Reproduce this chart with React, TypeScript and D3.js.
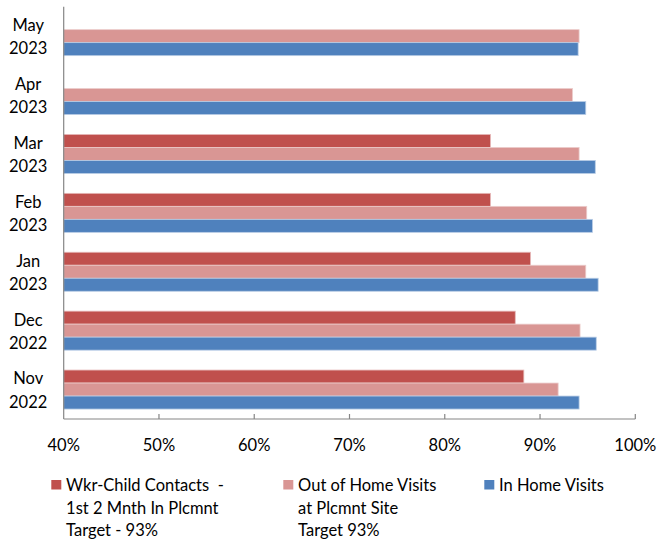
import React from "react";
import * as d3 from "d3";

const categories = ["Nov 2022", "Dec 2022", "Jan 2023", "Feb 2023", "Mar 2023", "Apr 2023", "May 2023"];
const wkrChild = [88.3, 87.4, 89.0, 84.8, 84.8, null, null];
const outOfHome = [91.9, 94.2, 94.8, 94.9, 94.1, 93.4, 94.1];
const inHome = [94.1, 95.9, 96.1, 95.5, 95.8, 94.8, 94.0];
const xTicks = [40, 50, 60, 70, 80, 90, 100];

const seriesNames = [
  ["Wkr-Child Contacts  -", "1st 2 Mnth In Plcmnt", "Target - 93%"],
  ["Out of Home Visits", "at Plcmnt Site", "Target 93%"],
  ["In Home Visits"],
];
const colors = ["#C0504D", "#D99694", "#4F81BD"];
const strokes = ["#E6B9B8", "#EBCBCA", "#B9CDE5"];

const FONT = "Lato, 'Open Sans', sans-serif";
const FS = 16.5;

export default function App() {
  const W = 657, H = 540;
  const left = 63.7, right = 635.3, top = 6.7, bottom = 419;
  const x = d3.scaleLinear().domain([40, 100]).range([left, right]);
  const y = d3.scaleBand<string>().domain([...categories].reverse()).range([top, bottom]).paddingInner(0).paddingOuter(0);
  const barH = 13;
  const series = [wkrChild, outOfHome, inHome];

  return (
    <svg width={W} height={H} style={{ position: "absolute", left: 0, top: 0, background: "#fff" }} fontFamily={FONT}>
      {categories.map((c, i) => {
        const cy = (y(c) as number) + y.bandwidth() / 2;
        const g0 = cy - (barH * 3) / 2;
        return (
          <g key={c}>
            {series.map((s, k) => {
              const v = s[i];
              if (v == null) return null;
              return (
                <rect key={k} x={x(40)} y={g0 + k * barH} width={x(v) - x(40)} height={barH}
                  fill={colors[k]} stroke={strokes[k]} strokeWidth={0.8} />
              );
            })}
            {c.split(" ").map((t, j) => (
              <text key={j} x={28.2} y={cy - 5.1 + j * 23.3} textAnchor="middle" fontSize={FS} fill="#000">{t}</text>
            ))}
          </g>
        );
      })}
      <line x1={left} x2={left} y1={top} y2={bottom} stroke="#868686" strokeWidth={1.2} />
      <line x1={left} x2={right} y1={bottom} y2={bottom} stroke="#868686" strokeWidth={1.2} />
      {xTicks.map((t) => (
        <g key={t}>
          {t > 40 && <line x1={x(t)} x2={x(t)} y1={bottom - 5} y2={bottom} stroke="#868686" strokeWidth={1.2} />}
          <text x={x(t)} y={451} textAnchor="middle" fontSize={FS} fill="#000">{t}%</text>
        </g>
      ))}
      {seriesNames.map((lines, k) => {
        const lx = [51.3, 283.3, 484.3][k];
        return (
          <g key={k}>
            <rect x={lx} y={480} width={10} height={9.5} fill={colors[k]} />
            {lines.map((ln, j) => (
              <text key={j} x={lx + 14.8} y={491 + j * 22.5} fontSize={FS} fill="#000" style={{ whiteSpace: "pre" }}>{ln}</text>
            ))}
          </g>
        );
      })}
    </svg>
  );
}
